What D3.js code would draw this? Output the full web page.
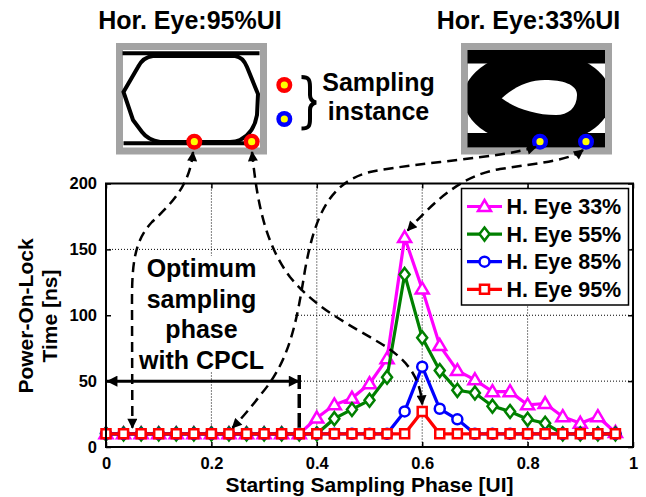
<!DOCTYPE html>
<html>
<head>
<meta charset="utf-8">
<script src="https://cdn.jsdelivr.net/npm/d3@7"></script>
<style>
  html, body { margin: 0; padding: 0; background: #fff; }
  svg { display: block; font-family: "Liberation Sans", Arial, sans-serif; font-weight: bold; }
</style>
</head>
<body>
<svg id="chart" width="646" height="497"></svg>
<script>
// Starting sampling phase (UI) of each simulated run
const phase = [0, 0.0333, 0.0667, 0.1, 0.1333, 0.1667, 0.2, 0.2333, 0.2667, 0.3,
               0.3333, 0.3667, 0.4, 0.4333, 0.4667, 0.5, 0.5333, 0.5667, 0.6, 0.6333,
               0.6667, 0.7, 0.7333, 0.7667, 0.8, 0.8333, 0.8667, 0.9, 0.9333, 0.9667];

// Power-on-lock time [ns] for each horizontal eye opening
const eye33 = [10, 10, 10, 10, 10, 10, 10, 10, 10, 10, 10, 10,
               22, 32, 37, 48, 67, 159, 120, 77, 58, 51, 42, 42, 32, 33, 23, 18, 23, 11];
const eye55 = [10, 10, 10, 10, 10, 10, 10, 10, 10, 10, 10, 10, 10,
               21.5, 28.5, 35.5, 53, 131, 83, 58, 43, 41, 31, 27, 21, 18, 10, 10, 10, 10];
const eye85 = [10, 10, 10, 10, 10, 10, 10, 10, 10, 10, 10, 10, 10, 10, 10, 10, 10,
               27, 61, 29, 21, 10, 10, 10, 10, 10, 10, 10, 10, 10];
const eye95 = [10, 10, 10, 10, 10, 10, 10, 10, 10, 10, 10, 10, 10, 10, 10, 10, 10, 10,
               27, 10, 10, 10, 10, 10, 10, 10, 10, 10, 10, 10];

const seriesNames = ["H. Eye 33%", "H. Eye 55%", "H. Eye 85%", "H. Eye 95%"];
const seriesColors = ["#ff00ff", "#008000", "#0000ff", "#ff0000"];
const seriesMarkers = ["triangle", "diamond", "circle", "square"];

const xTicks = [0, 0.2, 0.4, 0.6, 0.8, 1];
const xTickLabels = ["0", "0.2", "0.4", "0.6", "0.8", "1"];
const yTicks = [0, 50, 100, 150, 200];

// Optimum starting phase range found with CPCL
const optimumRange = [0, 0.3667];

const series = [eye33, eye55, eye85, eye95].map((vals, k) => ({
  name: seriesNames[k], color: seriesColors[k], marker: seriesMarkers[k],
  points: vals.map((v, i) => ({ x: phase[i], y: v }))
}));

const svg = d3.select("#chart");
const L = 106, R = 633, T = 183.5, B = 447;
const x = d3.scaleLinear().domain([0, 1]).range([L, R]);
const y = d3.scaleLinear().domain([0, 200]).range([B, T]);

const markerPath = {
  triangle: "M0,-6.5L6.5,4.5L-6.5,4.5Z",
  diamond: "M0,-6.5L5,0L0,6.5L-5,0Z",
  circle: "M5,0A5,5 0 1 1 -5,0A5,5 0 1 1 5,0Z",
  square: "M-4.5,-4.5H4.5V4.5H-4.5Z"
};

const defs = svg.append("defs");
defs.append("marker").attr("id", "head").attr("viewBox", "0 0 10 10")
  .attr("refX", 9).attr("refY", 5).attr("markerUnits", "userSpaceOnUse")
  .attr("markerWidth", 12).attr("markerHeight", 10).attr("orient", "auto-start-reverse")
  .append("path").attr("d", "M0,0L10,5L0,10Z").attr("fill", "#000");
defs.append("marker").attr("id", "bighead").attr("viewBox", "0 0 10 10")
  .attr("refX", 9.5).attr("refY", 5).attr("markerUnits", "userSpaceOnUse")
  .attr("markerWidth", 17).attr("markerHeight", 11).attr("orient", "auto-start-reverse")
  .append("path").attr("d", "M0,0L10,5L0,10Z").attr("fill", "#000");

// ---- grid ----
const grid = svg.append("g");
grid.selectAll(".gx").data(xTicks.slice(1, -1)).join("line")
  .attr("x1", d => x(d)).attr("x2", d => x(d)).attr("y1", T).attr("y2", B)
  .attr("stroke", "#000").attr("stroke-width", 1).attr("stroke-dasharray", "1,2");
grid.selectAll(".gy").data(yTicks.slice(1, -1)).join("line")
  .attr("x1", L).attr("x2", R).attr("y1", d => y(d)).attr("y2", d => y(d))
  .attr("stroke", "#000").attr("stroke-width", 1).attr("stroke-dasharray", "1,2");

// white panel behind the annotation text
svg.append("rect").attr("x", L + 1).attr("y", 256).attr("width", 187).attr("height", 116)
  .attr("fill", "#fff");

// ---- series ----
const line = d3.line().x(d => x(d.x)).y(d => y(d.y));
series.forEach(s => {
  const g = svg.append("g");
  g.append("path").datum(s.points).attr("d", line)
    .attr("fill", "none").attr("stroke", s.color).attr("stroke-width", 3.2)
    .attr("stroke-linejoin", "miter");
  g.selectAll("path.m").data(s.points).join("path").attr("class", "m")
    .attr("transform", d => `translate(${x(d.x)},${y(d.y)})`)
    .attr("d", markerPath[s.marker])
    .attr("fill", "#fff").attr("stroke", s.color).attr("stroke-width", 2.5);
});

// ---- axes frame ----
const axB = svg.append("g").attr("transform", `translate(0,${B})`)
  .call(d3.axisBottom(x).tickValues(xTicks).tickFormat((d, i) => xTickLabels[i]).tickSizeInner(-5).tickSizeOuter(0).tickPadding(10));
const axL = svg.append("g").attr("transform", `translate(${L},0)`)
  .call(d3.axisLeft(y).tickValues(yTicks).tickSizeInner(-5).tickSizeOuter(0).tickPadding(9));
const axT = svg.append("g").attr("transform", `translate(0,${T})`)
  .call(d3.axisTop(x).tickValues(xTicks).tickFormat("").tickSizeInner(-5).tickSizeOuter(0));
const axR = svg.append("g").attr("transform", `translate(${R},0)`)
  .call(d3.axisRight(y).tickValues(yTicks).tickFormat("").tickSizeInner(-5).tickSizeOuter(0));
[axB, axL, axT, axR].forEach(a => {
  a.select(".domain").remove();
  a.selectAll("line").attr("stroke", "#000").attr("stroke-width", 1.5);
  a.selectAll("text").attr("fill", "#000")
    .style("font-family", "'Liberation Sans', Arial, sans-serif")
    .style("font-weight", "bold").style("font-size", "16.5px");
});
svg.append("rect").attr("x", L).attr("y", T).attr("width", R - L).attr("height", B - T)
  .attr("fill", "none").attr("stroke", "#000").attr("stroke-width", 2);

// axis titles
svg.append("text").attr("x", x(0.5)).attr("y", 492).attr("text-anchor", "middle")
  .style("font-size", "21px").text("Starting Sampling Phase [UI]");
const yt = svg.append("text").attr("transform", "translate(33,316) rotate(-90)")
  .attr("text-anchor", "middle").style("font-size", "21px");
yt.append("tspan").attr("x", 0).attr("y", 0).text("Power-On-Lock");
yt.append("tspan").attr("x", 0).attr("y", 24).text("Time [ns]");

// ---- legend ----
const lg = svg.append("g");
lg.append("rect").attr("x", 461.5).attr("y", 188.5).attr("width", 167).attr("height", 116.5)
  .attr("fill", "#fff").attr("stroke", "#000").attr("stroke-width", 1.5);
series.forEach((s, k) => {
  const cy = 206.5 + k * 27.6;
  lg.append("line").attr("x1", 467).attr("x2", 502).attr("y1", cy).attr("y2", cy)
    .attr("stroke", s.color).attr("stroke-width", 3.2);
  lg.append("path").attr("transform", `translate(484.5,${cy})`).attr("d", markerPath[s.marker])
    .attr("fill", "#fff").attr("stroke", s.color).attr("stroke-width", 2.5);
  lg.append("text").attr("x", 506.5).attr("y", cy + 7.5).style("font-size", "21.5px").text(s.name);
});

// ---- optimum range annotation ----
const note = svg.append("text").attr("text-anchor", "middle").style("font-size", "25px");
["Optimum", "sampling", "phase", "with CPCL"].forEach((t, i) => {
  note.append("tspan").attr("x", 201.5).attr("y", 277 + i * 30.5).text(t);
});
svg.append("line").attr("x1", x(optimumRange[0]) + 1).attr("x2", x(optimumRange[1]))
  .attr("y1", y(50)).attr("y2", y(50)).attr("stroke", "#000").attr("stroke-width", 3)
  .attr("marker-start", "url(#bighead)").attr("marker-end", "url(#bighead)");
svg.append("line").attr("x1", x(optimumRange[1])).attr("x2", x(optimumRange[1]))
  .attr("y1", 375).attr("y2", 428).attr("stroke", "#000").attr("stroke-width", 3.5)
  .attr("stroke-dasharray", "14,5");

// ---- eye diagram, 95% UI opening ----
const e1 = svg.append("g");
e1.append("rect").attr("x", 119.5).attr("y", 46.5).attr("width", 144).attr("height", 104.5)
  .attr("fill", "#fff").attr("stroke", "#a3a3a3").attr("stroke-width", 7);
e1.append("line").attr("x1", 122.5).attr("x2", 259.5).attr("y1", 53.3).attr("y2", 53.3)
  .attr("stroke", "#000").attr("stroke-width", 4);
e1.append("line").attr("x1", 123.5).attr("x2", 257).attr("y1", 143.3).attr("y2", 143.3)
  .attr("stroke", "#000").attr("stroke-width", 4);
e1.append("path")
  .attr("d", "M153,56 L235,56 Q243,57 247,67 L258,94 L257,115 Q254,133 240,140 Q236,142 230,142 L160,142 Q148,140 142,132 L133,120 L123.5,92 L138,67 Q143,57 153,56 Z")
  .attr("fill", "none").attr("stroke", "#000").attr("stroke-width", 4);

// ---- eye diagram, 33% UI opening ----
const e2 = svg.append("g");
defs.append("clipPath").attr("id", "eye2clip").append("rect")
  .attr("x", 467.5).attr("y", 50).attr("width", 137.5).attr("height", 97.5);
e2.append("rect").attr("x", 464.5).attr("y", 46.5).attr("width", 144).attr("height", 104.5)
  .attr("fill", "#fff").attr("stroke", "#a3a3a3").attr("stroke-width", 7);
const e2c = e2.append("g").attr("clip-path", "url(#eye2clip)");
e2c.append("rect").attr("x", 467).attr("y", 49).attr("width", 139).attr("height", 14.5).attr("fill", "#000");
e2c.append("rect").attr("x", 467).attr("y", 133).attr("width", 139).attr("height", 15).attr("fill", "#000");
e2c.append("ellipse").attr("cx", 537.5).attr("cy", 98).attr("rx", 74).attr("ry", 47.5).attr("fill", "#000");
e2c.append("path")
  .attr("d", "M501.7,98.3 C515,86 530,80 545,80 C562,80 577,84 577,95 C577,108 568,115 556,115 C535,115 515,108 501.7,98.3 Z")
  .attr("fill", "#fff");

// sampling instants
function dot(g, cx, cy, ring) {
  g.append("circle").attr("cx", cx).attr("cy", cy).attr("r", 8).attr("fill", ring);
  g.append("circle").attr("cx", cx).attr("cy", cy).attr("r", 3.6).attr("fill", "#ffff00");
}
dot(svg, 194.3, 141.7, "#ff0000");
dot(svg, 251.7, 141.7, "#ff0000");
dot(svg, 540, 141.7, "#0000ff");
dot(svg, 586, 141.7, "#0000ff");
dot(svg, 284.3, 85, "#ff0000");
dot(svg, 284.3, 119, "#0000ff");
svg.append("path")
  .attr("d", "M301.5,77 C309,77 310,80 310,87 L310,95 C310,99 312,101.5 316,102.5 C312,103.5 310,106 310,110 L310,119 C310,126 309,128.5 301.5,128.5")
  .attr("fill", "none").attr("stroke", "#000").attr("stroke-width", 4);
const si = svg.append("text").attr("text-anchor", "middle").style("font-size", "25px");
si.append("tspan").attr("x", 378.5).attr("y", 91).text("Sampling");
si.append("tspan").attr("x", 378.5).attr("y", 120).text("instance");

// titles
svg.append("text").attr("x", 190).attr("y", 29).attr("text-anchor", "middle")
  .style("font-size", "25px").text("Hor. Eye:95%UI");
svg.append("text").attr("x", 528.5).attr("y", 29).attr("text-anchor", "middle")
  .style("font-size", "25px").text("Hor. Eye:33%UI");

// ---- dashed leader arrows ----
const arrows = [
  `M193,152 C190,185 172,203 152,222 C135,240 132,262 132,300 L${x(0.05)},${y(10) - 6}`,
  `M252,152 C256,190 262,240 290,277 C315,308 350,325 380,343 C405,358 420,375 ${x(0.6)},${y(27) - 7}`,
  `M536,147 C500,158 420,162 370,172 C330,182 315,215 305,270 C297,320 290,360 262,393 C252,406 242,418 ${x(0.24)},${y(10) - 6}`,
  `M583,150 C570,160 540,163 500,169 C465,175 440,195 ${x(0.5667) + 3},${y(159) - 7}`
];
arrows.forEach(d => {
  svg.append("path").attr("d", d).attr("fill", "none").attr("stroke", "#000")
    .attr("stroke-width", 2.5).attr("stroke-dasharray", "10,6")
    .attr("marker-start", "url(#head)").attr("marker-end", "url(#head)");
});
</script>
</body>
</html>
